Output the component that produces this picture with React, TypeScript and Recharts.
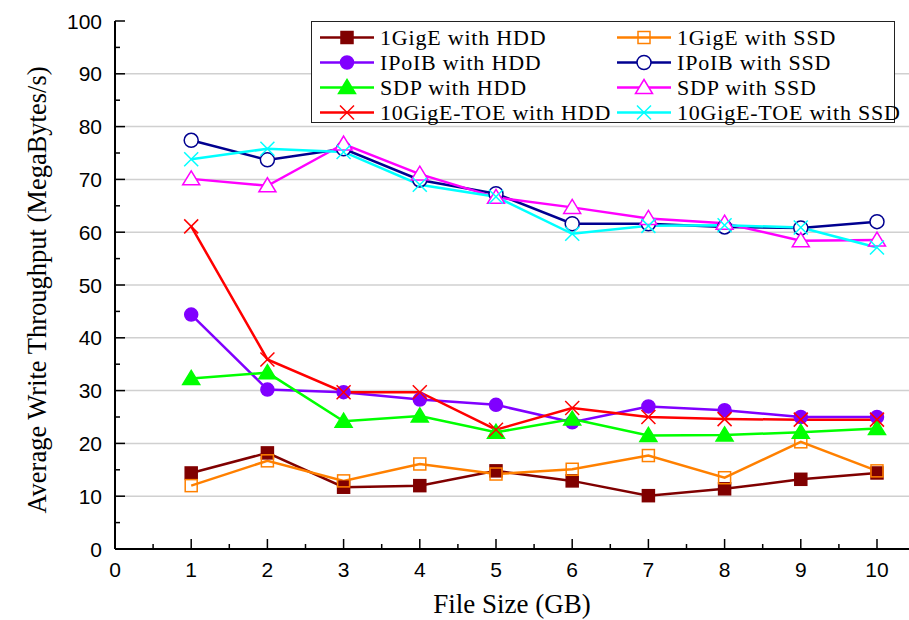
import React from 'react';
import { LineChart, Line, XAxis, YAxis, CartesianGrid, Legend } from 'recharts';

const fileSizes = [1, 2, 3, 4, 5, 6, 7, 8, 9, 10];

const gigeHdd = [14.4, 18.2, 11.7, 12.0, 14.8, 12.9, 10.1, 11.4, 13.2, 14.4];
const gigeSsd = [12.0, 16.7, 12.9, 16.1, 14.2, 15.1, 17.7, 13.5, 20.3, 14.8];
const ipoibHdd = [44.4, 30.2, 29.7, 28.3, 27.3, 24.0, 27.0, 26.3, 25.0, 25.0];
const ipoibSsd = [77.4, 73.7, 75.8, 69.9, 67.3, 61.6, 61.6, 61.0, 60.8, 62.0];
const sdpHdd = [32.3, 33.4, 24.2, 25.2, 22.1, 24.6, 21.5, 21.6, 22.1, 22.8];
const sdpSsd = [70.1, 68.8, 76.7, 71.0, 66.6, 64.7, 62.6, 61.7, 58.4, 58.5];
const toeHdd = [61.1, 35.9, 29.7, 29.7, 22.6, 26.7, 25.0, 24.6, 24.5, 24.5];
const toeSsd = [73.8, 75.8, 75.2, 69.0, 66.7, 59.7, 61.2, 61.3, 60.9, 57.1];

const xTicks = [0, 0.5, 1, 1.5, 2, 2.5, 3, 3.5, 4, 4.5, 5, 5.5, 6, 6.5, 7, 7.5, 8, 8.5, 9, 9.5, 10];
const yTicks = [0, 5, 10, 15, 20, 25, 30, 35, 40, 45, 50, 55, 60, 65, 70, 75, 80, 85, 90, 95, 100];
const gridValues = [10, 20, 30, 40, 50, 60, 70, 80, 90];

type Shape = 'square' | 'circle' | 'triangle' | 'cross';

const series = [
  { key: 'gigeHdd', name: '1GigE with HDD', color: '#800000', shape: 'square' as Shape, filled: true, values: gigeHdd },
  { key: 'gigeSsd', name: '1GigE with SSD', color: '#ff8000', shape: 'square' as Shape, filled: false, values: gigeSsd },
  { key: 'ipoibHdd', name: 'IPoIB with HDD', color: '#8000ff', shape: 'circle' as Shape, filled: true, values: ipoibHdd },
  { key: 'ipoibSsd', name: 'IPoIB with SSD', color: '#000090', shape: 'circle' as Shape, filled: false, values: ipoibSsd },
  { key: 'sdpHdd', name: 'SDP with HDD', color: '#00ff00', shape: 'triangle' as Shape, filled: true, values: sdpHdd },
  { key: 'sdpSsd', name: 'SDP with SSD', color: '#ff00ff', shape: 'triangle' as Shape, filled: false, values: sdpSsd },
  { key: 'toeHdd', name: '10GigE-TOE with HDD', color: '#ff0000', shape: 'cross' as Shape, filled: true, values: toeHdd },
  { key: 'toeSsd', name: '10GigE-TOE with SSD', color: '#00ffff', shape: 'cross' as Shape, filled: false, values: toeSsd },
];

const rows = fileSizes.map((size, i) => {
  const row: Record<string, number> = { size };
  series.forEach((s) => {
    row[s.key] = s.values[i];
  });
  return row;
});

const Marker = ({ shape, color, filled, cx, cy }: { shape: Shape; color: string; filled: boolean; cx: number; cy: number }) => {
  if (shape === 'square') {
    return <rect x={cx - 6} y={cy - 6} width={12} height={12} fill={filled ? color : 'none'} stroke={color} strokeWidth={1.5} />;
  }
  if (shape === 'circle') {
    return <circle cx={cx} cy={cy} r={filled ? 6.5 : 7} fill={filled ? color : '#fff'} stroke={color} strokeWidth={1.5} />;
  }
  if (shape === 'triangle') {
    const pts = `${cx},${cy - 8} ${cx + 8.5},${cy + 6} ${cx - 8.5},${cy + 6}`;
    return <polygon points={pts} fill={filled ? color : '#fff'} stroke={color} strokeWidth={1.5} />;
  }
  return (
    <g stroke={color} strokeWidth={1.5}>
      <line x1={cx - 7} y1={cy - 7} x2={cx + 7} y2={cy + 7} />
      <line x1={cx - 7} y1={cy + 7} x2={cx + 7} y2={cy - 7} />
    </g>
  );
};

const sansFont = '"Liberation Sans", Arial, sans-serif';
const serifFont = '"Liberation Serif", "Times New Roman", serif';

const XTick = (props: any) => {
  const { x, y, payload } = props;
  const major = Number.isInteger(payload.value);
  return (
    <g>
      <line x1={x} x2={x} y1={y} y2={y - (major ? 10 : 5)} stroke="#000" strokeWidth={1.5} />
      {major && (
        <text x={x} y={y + 28} textAnchor="middle" fontFamily={sansFont} fontSize={21} fill="#000">
          {payload.value}
        </text>
      )}
    </g>
  );
};

const TopTick = (props: any) => {
  const { x, y, payload } = props;
  const major = Number.isInteger(payload.value);
  return <line x1={x} x2={x} y1={y} y2={y + (major ? 8 : 4)} stroke="#000" strokeWidth={1.2} />;
};

const YTick = (props: any) => {
  const { x, y, payload } = props;
  const major = payload.value % 10 === 0;
  return (
    <g>
      <line x1={x} x2={x + (major ? 10 : 5)} y1={y} y2={y} stroke="#000" strokeWidth={1.5} />
      {major && (
        <text x={x - 13} y={y + 7.5} textAnchor="end" fontFamily={sansFont} fontSize={21} fill="#000">
          {payload.value}
        </text>
      )}
    </g>
  );
};

const YTitle = (props: any) => {
  const { viewBox } = props;
  const cx = viewBox.x + 37;
  const cy = viewBox.y + viewBox.height / 2 + 5;
  return (
    <text
      x={cx}
      y={cy}
      transform={`rotate(-90, ${cx}, ${cy})`}
      textAnchor="middle"
      dominantBaseline="central"
      fontFamily={serifFont}
      fontSize={26.5}
      fill="#000"
    >
      Average Write Throughput (MegaBytes/s)
    </text>
  );
};

const LegendBox = () => (
  <div
    style={{
      position: 'relative',
      width: 584,
      height: 102,
      border: '1.5px solid #222',
      boxSizing: 'border-box',
      background: '#fff',
      overflow: 'visible',
    }}
  >
    {series.map((s, i) => {
      const col = i % 2;
      const row = Math.floor(i / 2);
      return (
        <div
          key={s.key}
          style={{
            position: 'absolute',
            left: 8 + col * 297,
            top: 3 + row * 25,
            height: 25,
            display: 'flex',
            alignItems: 'center',
            whiteSpace: 'nowrap',
          }}
        >
          <svg width={54} height={25} style={{ display: 'block' }}>
            <line x1={0} x2={54} y1={12.5} y2={12.5} stroke={s.color} strokeWidth={2.5} />
            <Marker shape={s.shape} color={s.color} filled={s.filled} cx={27} cy={12.5} />
          </svg>
          <span
            style={{
              marginLeft: 6,
              fontFamily: serifFont,
              fontSize: 22,
              letterSpacing: 0.8,
              color: '#000',
              lineHeight: '25px',
            }}
          >
            {s.name}
          </span>
        </div>
      );
    })}
  </div>
);

export default function App() {
  return (
    <div style={{ width: 909, height: 620, background: '#fff' }}>
      <style>{'body{margin:0;}'}</style>
      <LineChart width={909} height={620} data={rows} margin={{ top: 21, right: 0, left: 0, bottom: 0 }}>
        <CartesianGrid horizontal vertical={false} horizontalValues={gridValues} stroke="#d0d0d0" strokeWidth={1.5} />
        <XAxis
          dataKey="size"
          type="number"
          domain={[0, 10.42]}
          ticks={xTicks}
          interval={0}
          allowDataOverflow
          height={71}
          tickSize={0}
          tickMargin={0}
          tick={<XTick />}
          axisLine={{ stroke: '#000', strokeWidth: 2 }}
          tickLine={false}
          label={{ value: 'File Size (GB)', position: 'insideBottom', offset: 7, fontFamily: serifFont, fontSize: 27, fill: '#000' }}
        />
        <XAxis
          xAxisId="top"
          orientation="top"
          type="number"
          domain={[0, 10.42]}
          ticks={xTicks}
          interval={0}
          allowDataOverflow
          height={0}
          tickSize={0}
          tickMargin={0}
          tick={<TopTick />}
          axisLine={{ stroke: '#000', strokeWidth: 2 }}
          tickLine={false}
        />
        <YAxis
          type="number"
          domain={[0, 100]}
          ticks={yTicks}
          interval={0}
          width={115}
          tickSize={0}
          tickMargin={0}
          tick={<YTick />}
          axisLine={{ stroke: '#000', strokeWidth: 2 }}
          tickLine={false}
          label={<YTitle />}
        />
        <Legend
          layout="horizontal"
          verticalAlign="middle"
          align="center"
          content={() => <LegendBox />}
          wrapperStyle={{ position: 'absolute', left: 311, top: 21, width: 584, height: 102 }}
        />
        {series.map((s) => (
          <Line
            key={s.key}
            dataKey={s.key}
            name={s.name}
            type="linear"
            stroke={s.color}
            strokeWidth={2.5}
            isAnimationActive={false}
            activeDot={false}
            dot={(p: any) => (
              <Marker key={`${s.key}-${p.index}`} shape={s.shape} color={s.color} filled={s.filled} cx={p.cx} cy={p.cy} />
            )}
          />
        ))}
      </LineChart>
    </div>
  );
}
